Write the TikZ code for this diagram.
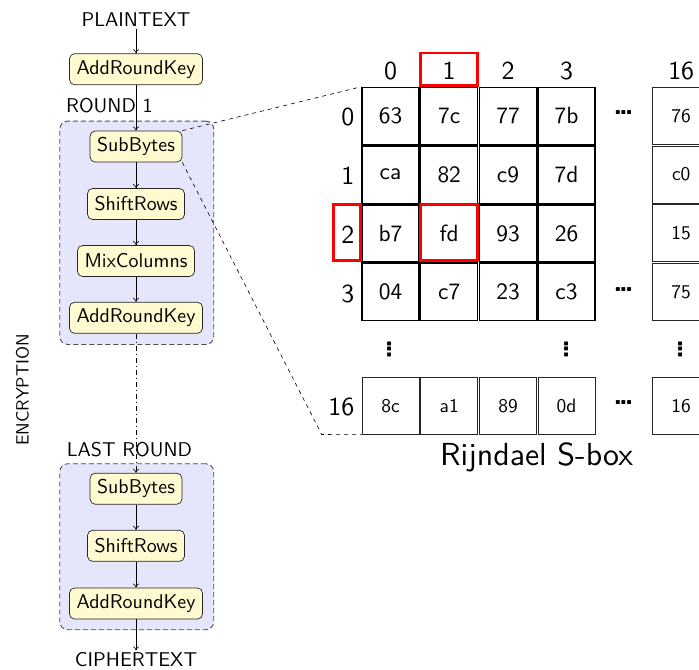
\documentclass[tikz,border=0pt]{standalone}
\usetikzlibrary{arrows.meta}
\definecolor{stagefill}{RGB}{255,250,208}
\definecolor{groupfill}{RGB}{229,229,252}
% text is set at 10pt and magnified, keeping the 10pt design of the sans face
\newcommand\txs{1}
\newcommand\tx[1]{\scalebox{\txs}{#1}}
\newcommand\tightdots{\textbf{.\kern-0.12em.\kern-0.12em.}}
\begin{document}
\begin{tikzpicture}[x=1bp,y=-1bp,
  sz/.style={font={\sffamily\fontsize{10}{12}\selectfont\renewcommand\txs{#1}}},
  lbl/.style={sz=2.0, inner sep=2bp},
  stage/.style={draw=black!85, fill=stagefill, rounded corners=5bp, line width=0.7bp,
    minimum height=31bp, inner xsep=7bp, inner ysep=0bp, sz=2.0},
  group/.style={draw=black!70, dashed, dash pattern=on 5bp off 3bp, fill=groupfill,
    rounded corners=8bp, line width=0.9bp, inner sep=0bp, anchor=north west},
  flow/.style={-{To[length=4bp,width=6bp]}, line width=0.6bp},
  skip/.style={flow, dash pattern=on 5bp off 3bp on 1bp off 3bp},
  zoomline/.style={line width=0.6bp, dash pattern=on 4bp off 4bp},
  cell/.style={draw, line width=1.2bp, minimum size=57bp, inner sep=0bp, sz=2.35},
  smallcell/.style={cell, draw=black!85, line width=1bp, sz=1.95},
  idx/.style={sz=2.6, inner sep=0bp, anchor=base},
  dots/.style={sz=3.0, inner sep=0bp, anchor=base},
  vdots/.style={sz=3.0, inner sep=0bp, rotate=90},
  hl/.style={draw=red, line width=2.7bp}]
\useasboundingbox (0,0) rectangle (699,670);

% ---- encryption flow ----
\node[group, minimum width=154bp, minimum height=223.3bp] (round1) at (59.3,120.7) {};
\node[group, minimum width=154bp, minimum height=166bp] (lastround) at (59.3,463.3) {};

\node[lbl] (plain) at (136,19.5) {\tx{PLAINTEXT}};
\node[stage] (ark0) at (136,69.2) {\tx{AddRoundKey}};
\node[lbl, anchor=base west, inner sep=0bp] (r1lbl) at (66,112.8) {\tx{ROUND 1}};
\node[stage] (sb1) at (136,146.5) {\tx{SubBytes}};
\node[stage] (sr1) at (136,204) {\tx{ShiftRows}};
\node[stage] (mc1) at (136,261) {\tx{MixColumns}};
\node[stage] (ark1) at (136,317.8) {\tx{AddRoundKey}};

\node[lbl, anchor=base west, inner sep=0bp] (lrlbl) at (66.7,456) {\tx{LAST ROUND}};
\node[stage] (sb2) at (136,488.7) {\tx{SubBytes}};
\node[stage] (sr2) at (136,545.8) {\tx{ShiftRows}};
\node[stage] (ark2) at (136,603.5) {\tx{AddRoundKey}};
\node[lbl] (cipher) at (136,659.8) {\tx{CIPHERTEXT}};

\node[sz=1.78, rotate=90] (enc) at (22.5,390) {\tx{ENCRYPTION}};

\draw[flow] (plain) -- (ark0);
\draw[flow] (ark0) -- (sb1);
\draw[flow] (sb1) -- (sr1);
\draw[flow] (sr1) -- (mc1);
\draw[flow] (mc1) -- (ark1);
\draw[skip] (ark1) -- (sb2);
\draw[flow] (sb2) -- (sr2);
\draw[flow] (sr2) -- (ark2);
\draw[flow] (ark2) -- (cipher);

% ---- S-box table ----
\foreach \c/\x in {0/390.5,1/449.2,2/508,3/566.5,16/681.2}
  \node[idx] (col\c) at (\x,79.3) {\tx{\c}};
\foreach \r/\y in {0/115.8,1/174.6,2/233.4,3/292.3,16/405.7}
  \node[idx, anchor=base east] (row\r) at (354.5,\y+9.8) {\tx{\r}};

\foreach \r/\y/\a/\b/\cc/\d/\e in {0/115.8/63/7c/77/7b/76, 1/174.6/ca/82/c9/7d/c0,
    2/233.4/b7/fd/93/26/15, 3/292.3/04/c7/23/c3/75} {
  \node[cell] (c\r-0) at (390.5,\y) {\tx{\a}};
  \node[cell] (c\r-1) at (449.2,\y) {\tx{\b}};
  \node[cell] (c\r-2) at (508,\y) {\tx{\cc}};
  \node[cell] (c\r-3) at (566.5,\y) {\tx{\d}};
  \node[smallcell] (c\r-16) at (681.2,\y) {\tx{\e}};
}
\node[smallcell] (c16-0) at (390.5,405.7) {\tx{8c}};
\node[smallcell] (c16-1) at (449.2,405.7) {\tx{a1}};
\node[smallcell] (c16-2) at (508,405.7) {\tx{89}};
\node[smallcell] (c16-3) at (566.5,405.7) {\tx{0d}};
\node[smallcell] (c16-16) at (681.2,405.7) {\tx{16}};

\node[dots] (h0) at (623.5,114.5) {\tx{\tightdots}};
\node[dots] (h3) at (623.5,291) {\tx{\tightdots}};
\node[dots] (h16) at (623.5,404.5) {\tx{\tightdots}};
\node[vdots] (v0) at (390,349.3) {\tx{\tightdots}};
\node[vdots] (v3) at (567,349.3) {\tx{\tightdots}};
\node[vdots] (v16) at (681,349.3) {\tx{\tightdots}};

\node[sz=3.2, anchor=base, inner sep=0bp] (title) at (536.5,465) {\tx{Rijndael S-box}};

% highlighted row, column and entry
\draw[hl] (420.6,53) rectangle (477.7,85.4);
\draw[hl] (333.4,204.4) rectangle (360.6,260.6);
\draw[hl] (420.6,204.4) rectangle (477.7,260.6);

% zoom from SubBytes onto the table
\coordinate (zc) at (321.7,434.5);
\draw[zoomline] (sb1.north east) -- (c0-0.north west);
\draw[zoomline] (sb1.south east) -- (zc) -- (c16-0.south west);
\end{tikzpicture}
\end{document}
